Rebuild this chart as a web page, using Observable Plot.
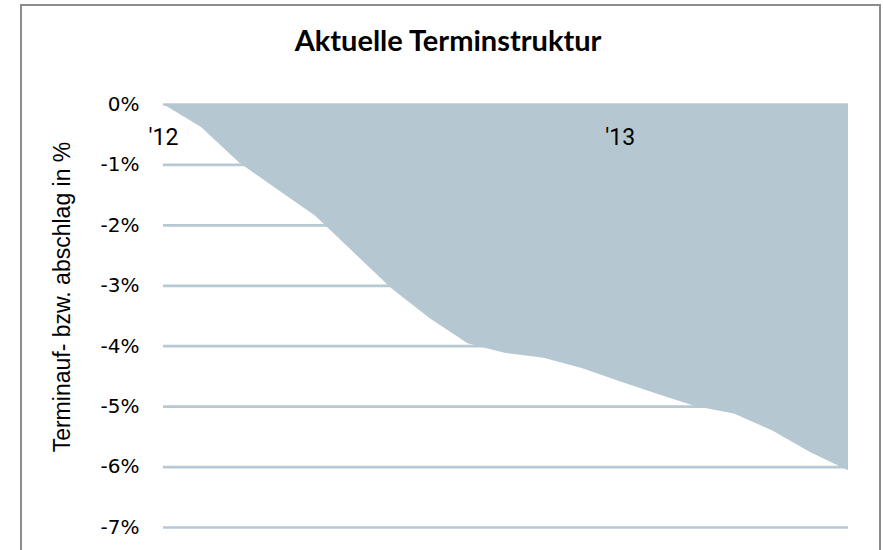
<!DOCTYPE html>
<html>
<head>
<meta charset="utf-8">
<script src="https://cdn.jsdelivr.net/npm/d3@7"></script>
<script src="https://cdn.jsdelivr.net/npm/@observablehq/plot@0.6"></script>
<style>
  html, body { margin: 0; padding: 0; background: #fff; overflow: hidden; }
  #wrap { position: relative; width: 883px; height: 550px; }
  #frame { position: absolute; left: 20px; top: 4px; width: 861px; height: 600px;
           border: 2px solid #8c8c8c; border-bottom: none; box-sizing: border-box; }
  #title { position: absolute; left: 20px; width: 856px; top: 22px; text-align: center;
           font-family: Lato, "Liberation Sans", sans-serif; font-weight: bold; font-size: 29px; color: #000; }
  #ytitle { position: absolute; left: 62px; top: 297px; transform: translate(-50%, -50%) rotate(-90deg);
            white-space: nowrap; font-family: "Liberation Sans", Arial, sans-serif; font-size: 23px; color: #000; }
  #chart { position: absolute; left: 0; top: 0; }
</style>
</head>
<body>
<div id="wrap">
  <div id="frame"></div>
  <div id="title">Aktuelle Terminstruktur</div>
  <div id="chart"></div>
  <div id="ytitle"></div>
</div>
<script>
// monthly index from Jan '12 (0) to Jul '13 (18)
const months = [0,1,2,3,4,5,6,7,8,9,10,11,12,13,14,15,16,17,18];
const values = [0,-0.38,-0.97,-1.41,-1.85,-2.45,-3.05,-3.54,-3.96,-4.12,-4.2,-4.37,-4.59,-4.8,-5.0,-5.12,-5.4,-5.76,-6.06];
const yTicks = [-7,-6,-5,-4,-3,-2,-1,0];
const xLabelPos = [0, 12];
const xLabels = ["'12", "'13"];
const yTitle = "Terminauf- bzw. abschlag in %";

document.getElementById("ytitle").textContent = yTitle;

const data = months.map((m, i) => ({m, v: values[i]}));
const xl = xLabelPos.map((p, i) => ({m: p, label: xLabels[i]}));

const chart = Plot.plot({
  width: 883,
  height: 550,
  marginLeft: 163,
  marginRight: 35,
  marginTop: 104,
  marginBottom: 23,
  style: {fontFamily: "'DejaVu Sans', sans-serif", background: "transparent", overflow: "visible"},
  x: {domain: [0, 18], axis: null},
  y: {domain: [-7, 0]},
  marks: [
    Plot.ruleY(yTicks, {stroke: "#b7c9d2", strokeWidth: 2.7}),
    Plot.areaY(data, {x: "m", y1: 0, y2: "v", fill: "#b5c8d1", fillOpacity: 1}),
    Plot.axisY({ticks: yTicks, tickSize: 0, tickPadding: 24, tickFormat: d => d + "%", label: null,
                fontSize: 20, fill: "#000", style: "letter-spacing: 1px"}),
    Plot.text(xl, {x: "m", text: "label", frameAnchor: "top", lineAnchor: "middle", dy: 33, fontSize: 23,
                   fontFamily: "Roboto, sans-serif", fill: "#000"})
  ]
});
document.getElementById("chart").appendChild(chart);
</script>
</body>
</html>
